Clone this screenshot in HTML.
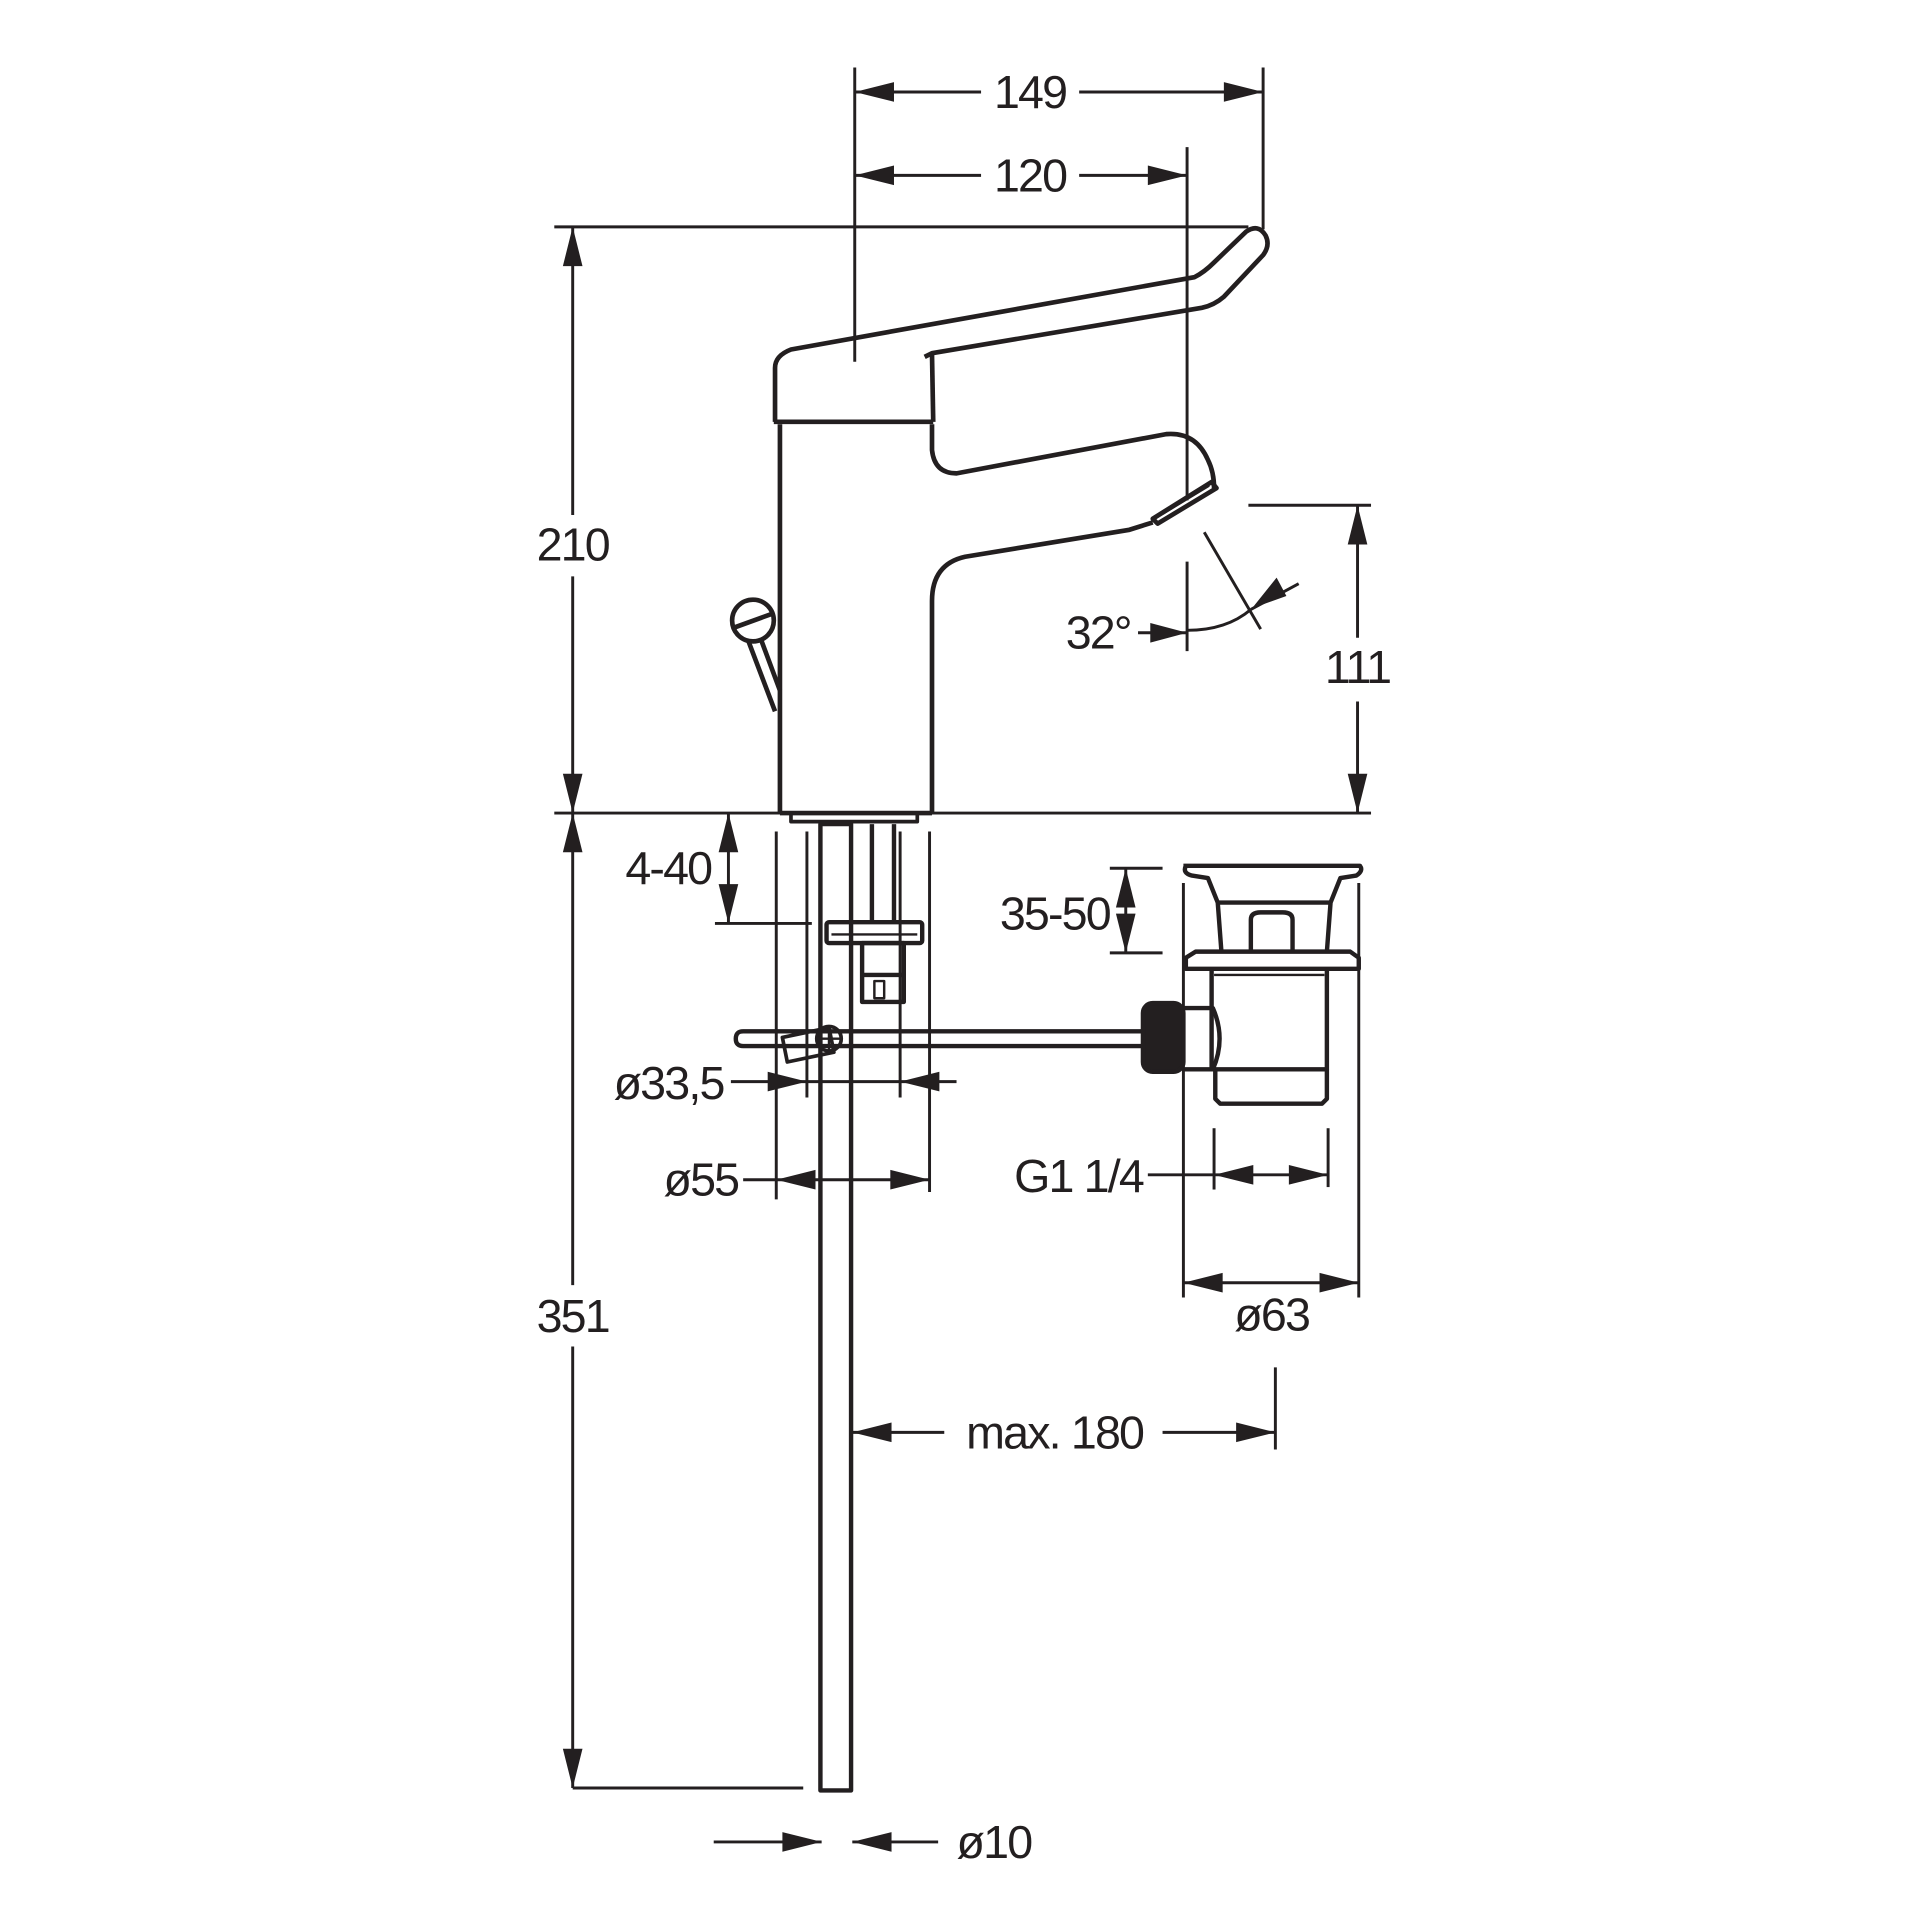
<!DOCTYPE html>
<html><head><meta charset="utf-8"><style>
html,body{margin:0;padding:0;background:#fff;}
svg{display:block;}
text{font-family:"Liberation Sans",sans-serif;font-size:38px;fill:#231f20;letter-spacing:-1.5px;}
</style></head><body>
<svg width="1920" height="1920" viewBox="0 0 1550 1550" xmlns="http://www.w3.org/2000/svg">
<g transform="scale(0.99)" fill="none" stroke="#231f20" stroke-linejoin="round" stroke-linecap="butt">

<g stroke-width="2.4">
  <line x1="697" y1="55" x2="697" y2="295"/>
  <line x1="1030" y1="55" x2="1030" y2="187"/>
  <line x1="697" y1="75" x2="800" y2="75"/><line x1="880" y1="75" x2="1030" y2="75"/>
  <line x1="968" y1="120" x2="968" y2="408"/>
  <line x1="968" y1="458" x2="968" y2="531"/>
  <line x1="697" y1="143" x2="800" y2="143"/><line x1="880" y1="143" x2="968" y2="143"/>
  <line x1="452" y1="185" x2="1018" y2="185"/>
  <line x1="467" y1="185" x2="467" y2="420"/><line x1="467" y1="470" x2="467" y2="663"/>
  <line x1="452" y1="663" x2="640" y2="663"/><line x1="760" y1="663" x2="1118" y2="663"/>
  <line x1="1018" y1="412" x2="1118" y2="412"/>
  <line x1="1107" y1="412" x2="1107" y2="520"/><line x1="1107" y1="572" x2="1107" y2="663"/>
  <line x1="467" y1="663" x2="467" y2="1048"/><line x1="467" y1="1098" x2="467" y2="1458"/>
  <line x1="467" y1="1458" x2="655" y2="1458"/>
  <line x1="594" y1="663" x2="594" y2="753"/>
  <line x1="583" y1="753" x2="662" y2="753"/>
  <line x1="658" y1="678" x2="658" y2="895"/>
  <line x1="734" y1="678" x2="734" y2="895"/>
  <line x1="596" y1="882" x2="780" y2="882"/>
  <line x1="633" y1="678" x2="633" y2="978"/>
  <line x1="758" y1="678" x2="758" y2="972"/>
  <line x1="606" y1="962" x2="758" y2="962"/>
  <line x1="990" y1="920" x2="990" y2="970"/>
  <line x1="1083" y1="920" x2="1083" y2="968"/>
  <line x1="936" y1="958" x2="1083" y2="958"/>
  <line x1="965" y1="720" x2="965" y2="1058"/>
  <line x1="1108" y1="720" x2="1108" y2="1058"/>
  <line x1="965" y1="1046" x2="1108" y2="1046"/>
  <line x1="905" y1="708" x2="948" y2="708"/>
  <line x1="905" y1="777" x2="948" y2="777"/>
  <line x1="918" y1="708" x2="918" y2="777"/>
  <line x1="1040" y1="1115" x2="1040" y2="1182"/>
  <line x1="695" y1="1168" x2="770" y2="1168"/><line x1="948" y1="1168" x2="1040" y2="1168"/>
  <line x1="582" y1="1502" x2="670" y2="1502"/>
  <line x1="695" y1="1502" x2="765" y2="1502"/>
  <line x1="982" y1="434" x2="1028" y2="513"/>
  <line x1="928" y1="516" x2="968" y2="516"/>
  <path d="M968,514 Q1000,514 1020,497"/>
  <line x1="1020" y1="497" x2="1059" y2="476"/>
</g>

<g fill="#231f20" stroke="none">
  <polygon points="697,75 729,67 729,83"/><polygon points="1030,75 998,67 998,83"/>
  <polygon points="697,143 729,135 729,151"/><polygon points="968,143 936,135 936,151"/>
  <polygon points="467,185 459,217 475,217"/><polygon points="467,663 459,631 475,631"/>
  <polygon points="1107,412 1099,444 1115,444"/><polygon points="1107,663 1099,631 1115,631"/>
  <polygon points="467,663 459,695 475,695"/><polygon points="467,1458 459,1426 475,1426"/>
  <polygon points="594,663 586,695 602,695"/><polygon points="594,753 586,721 602,721"/>
  <polygon points="658,882 626,874 626,890"/><polygon points="734,882 766,874 766,890"/>
  <polygon points="633,962 665,954 665,970"/><polygon points="758,962 726,954 726,970"/>
  <polygon points="990,958 1022,950 1022,966"/><polygon points="1083,958 1051,950 1051,966"/>
  <polygon points="965,1046 997,1038 997,1054"/><polygon points="1108,1046 1076,1038 1076,1054"/>
  <polygon points="918,708 910,740 926,740"/><polygon points="918,777 910,745 926,745"/>
  <polygon points="695,1168 727,1160 727,1176"/><polygon points="1040,1168 1008,1160 1008,1176"/>
  <polygon points="670,1502 638,1494 638,1510"/><polygon points="695,1502 727,1494 727,1510"/>
  <polygon points="968,516 938,508 938,524"/>
  <polygon points="1021,496 1041,471 1049,486"/>
</g>

<g stroke-width="3.8">
  <path d="M632,344 L632,300 Q632,290 645,285 L974,226 Q982,222 990,214 L1016,189 Q1026,182 1032,192 Q1036,200 1030,208 L998,242 Q990,249 980,251 L760,288 L754,291"/>
  <line x1="760" y1="289" x2="761" y2="344"/>
  <line x1="631" y1="344" x2="761" y2="344"/>
  <path d="M636,346 L636,663"/>
  <path d="M760,346 L760,367 Q762,386 780,386 L951,354 Q975,352 985,375 Q990,385 990,398"/>
  <path d="M992,398 L944,427 L940,423 L988,393 Z"/>
  <line x1="948" y1="419" x2="986" y2="396" stroke-width="2"/>
  <path d="M940,426 L921,432 L787,454 Q760,460 760,490 L760,663"/>
  <path d="M636,663 L760,663"/>
  <path d="M645,663 L645,670 L748,670 L748,663" stroke-width="3"/>
  <circle cx="614" cy="506" r="17"/>
  <line x1="598" y1="512" x2="631" y2="500"/>
  <path d="M610,522 L632,580 M620,520 L636,563"/>
</g>

<g stroke-width="3.6">
  <rect x="669" y="672" width="25" height="788"/>
  <line x1="711" y1="672" x2="711" y2="752"/>
  <line x1="729" y1="672" x2="729" y2="752"/>
  <rect x="674" y="752" width="78" height="17" rx="2"/>
  <line x1="678" y1="762" x2="748" y2="762" stroke-width="2"/>
  <rect x="703" y="769" width="34" height="48"/>
  <line x1="703" y1="795" x2="737" y2="795"/>
  <rect x="713" y="800" width="8" height="14" stroke-width="2"/>
  <path d="M940,841 L606,841 Q600,841 600,847 Q600,853 606,853 L940,853"/>
  <path d="M638,846 L642,866 L680,858 L676,838 Z" stroke-width="3"/>
  <circle cx="676" cy="847" r="10" stroke-width="3"/>
  <line x1="666" y1="847" x2="686" y2="847" stroke-width="2"/>
  <line x1="676" y1="837" x2="676" y2="857" stroke-width="2"/>
</g>

<g stroke-width="3.6">
  <rect x="932" y="818" width="33" height="56" rx="8" fill="#231f20"/>
  <path d="M965,822 L989,822 Q1000,847 989,872 L965,872"/>
  <path d="M965,706 L1109,706 Q1112,710 1106,714 L1093,716 L1085,736 L1082,776 M967,706 Q964,712 972,714 L985,716 L993,736 L996,776"/>
  <line x1="993" y1="736" x2="1085" y2="736"/>
  <path d="M1020,776 L1020,750 Q1020,744 1028,744 L1046,744 Q1054,744 1054,750 L1054,776"/>
  <path d="M967,790 L967,781 L975,776 L1101,776 L1108,781 L1108,790 Z"/>
  <path d="M988,790 L988,872 L1082,872 L1082,790"/>
  <line x1="990" y1="795" x2="1080" y2="795" stroke-width="2"/>
  <path d="M991,872 L991,896 L995,900 L1078,900 L1082,896 L1082,872"/>
</g>

</g>

<g transform="scale(0.99)">
<text x="840" y="88" text-anchor="middle">149</text>
<text x="840" y="156" text-anchor="middle">120</text>
<text x="467" y="457" text-anchor="middle">210</text>
<text x="1107" y="557" text-anchor="middle">111</text>
<text x="467" y="1086" text-anchor="middle">351</text>
<text x="580" y="721" text-anchor="end">4-40</text>
<text x="905" y="758" text-anchor="end">35-50</text>
<text x="590" y="896" text-anchor="end">ø33,5</text>
<text x="602" y="975" text-anchor="end">ø55</text>
<text x="932" y="972" text-anchor="end">G1 1/4</text>
<text x="1037" y="1085" text-anchor="middle">ø63</text>
<text x="860" y="1181" text-anchor="middle">max. 180</text>
<text x="780" y="1515">ø10</text>
<text x="922" y="529" text-anchor="end">32°</text>
</g>
</svg>
</body></html>
